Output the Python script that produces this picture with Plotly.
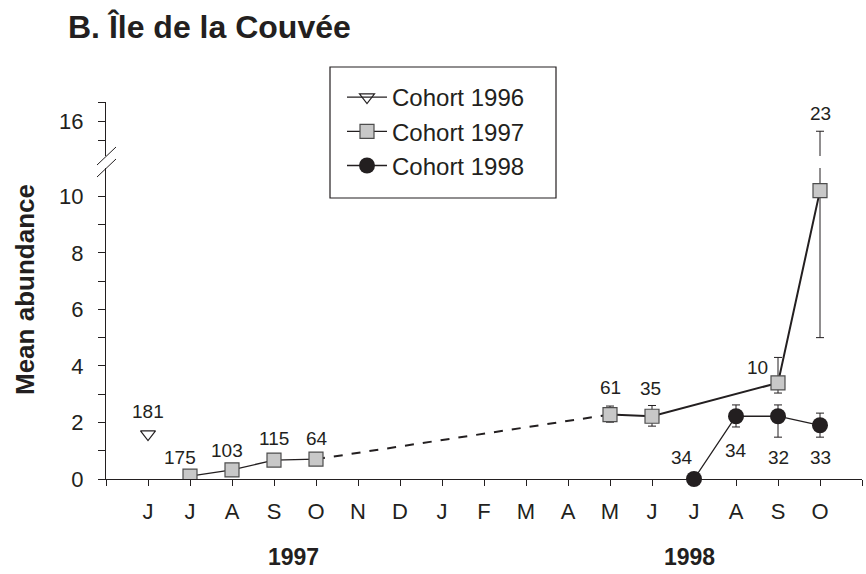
import plotly.graph_objects as go
from plotly.subplots import make_subplots

INK = "#231f20"
SQUARE_FILL = "#c8c8c8"
FONT = "Liberation Sans, Arial, sans-serif"
NARROW = "Liberation Sans Narrow, Arial Narrow, Liberation Sans, Arial, sans-serif"

# months from June 1997 to October 1998
MONTHS = ["J", "J", "A", "S", "O", "N", "D", "J", "F", "M", "A", "M", "J", "J", "A", "S", "O"]

C96_X = [0]
C96_Y = [1.59]
C96_N = [181]

C97_X = [1, 2, 3, 4, 11, 12, 15, 16]
C97_Y = [0.10, 0.32, 0.67, 0.70, 2.28, 2.22, 3.40, 10.20]
C97_UP = [0, 0, 0, 0, 0.30, 0.38, 0.90, 5.30]
C97_DN = [0, 0, 0, 0, 0.27, 0.35, 0.36, 5.20]
C97_N = [175, 103, 115, 64, 61, 35, 10, 23]

C98_X = [13, 14, 15, 16]
C98_Y = [0, 2.22, 2.22, 1.90]
C98_UP = [0, 0.40, 0.40, 0.43]
C98_DN = [0, 0.38, 0.74, 0.42]
C98_N = [34, 34, 32, 33]

# label offsets in pixels (xshift, yshift)
OFF96 = [(0, 23)]
OFF97 = [(-10, 19), (-5, 19), (0, 22), (1, 21), (0, 27), (-2, 28), (-21, 15)]
OFF98 = [(-12, 22), (0, -34), (0, -41), (0, -32)]

fig = make_subplots(rows=2, cols=1, shared_xaxes=True, vertical_spacing=0.03)

sq = dict(symbol="square", size=14, color=SQUARE_FILL, line=dict(color="#4d4d4d", width=1.2))
dot = dict(symbol="circle", size=16, color=INK)
err = dict(type="data", thickness=1, width=4, color=INK)

# --- lower panel (row 2) ---
fig.add_trace(go.Scatter(
    x=C96_X, y=C96_Y, mode="lines+markers", name="Cohort 1996",
    line=dict(color=INK, width=1.3),
    marker=dict(symbol="triangle-down-open", size=13, color=INK, line=dict(width=1.2)),
), row=2, col=1)

# dashed link across the winter gap
fig.add_trace(go.Scatter(
    x=C97_X[3:5], y=C97_Y[3:5], mode="lines", showlegend=False,
    line=dict(color=INK, width=2, dash="dash"),
), row=2, col=1)

fig.add_trace(go.Scatter(
    x=C97_X[:4], y=C97_Y[:4], mode="lines+markers", name="Cohort 1997",
    line=dict(color=INK, width=1.3), marker=sq,
), row=2, col=1)

fig.add_trace(go.Scatter(
    x=C97_X[4:], y=C97_Y[4:], mode="lines+markers", showlegend=False,
    line=dict(color=INK, width=2), marker=sq,
    error_y=dict(array=C97_UP[4:], arrayminus=C97_DN[4:], **err),
), row=2, col=1)

fig.add_trace(go.Scatter(
    x=C98_X, y=C98_Y, mode="lines+markers", name="Cohort 1998",
    line=dict(color=INK, width=1.3), marker=dot, cliponaxis=False,
    error_y=dict(array=C98_UP, arrayminus=C98_DN, **err),
), row=2, col=1)

# --- upper panel (row 1): only the tail of the October error bar ---
fig.add_trace(go.Scatter(
    x=C97_X[-1:], y=C97_Y[-1:], mode="markers", showlegend=False,
    marker=sq,
    error_y=dict(array=C97_UP[-1:], arrayminus=[0], **err),
), row=1, col=1)

# sample sizes
lab = dict(showarrow=False, font=dict(family=FONT, size=19, color=INK))
for x, y, n, (dx, dy) in zip(C96_X, C96_Y, C96_N, OFF96):
    fig.add_annotation(x=x, y=y, text=str(n), xref="x2", yref="y2", xshift=dx, yshift=dy, **lab)
for x, y, n, (dx, dy) in zip(C97_X[:-1], C97_Y[:-1], C97_N[:-1], OFF97):
    fig.add_annotation(x=x, y=y, text=str(n), xref="x2", yref="y2", xshift=dx, yshift=dy, **lab)
for x, y, n, (dx, dy) in zip(C98_X, C98_Y, C98_N, OFF98):
    fig.add_annotation(x=x, y=y, text=str(n), xref="x2", yref="y2", xshift=dx, yshift=dy, **lab)
fig.add_annotation(x=C97_X[-1], y=C97_Y[-1] + C97_UP[-1], text=str(C97_N[-1]),
                   xref="x", yref="y", yshift=18, **lab)

# axes
LOW_TOP = (479 - 168) / 377
UP_BOT = (479 - 156) / 377
axfont = dict(family=FONT, size=22, color=INK)

fig.update_xaxes(range=[-1, 17], showgrid=False, zeroline=False)
fig.update_xaxes(row=1, col=1, visible=False)
fig.update_xaxes(
    row=2, col=1,
    tickmode="array", tickvals=list(range(-1, 18)),
    ticktext=[""] + MONTHS + [""],
    ticks="outside", ticklen=6, tickcolor=INK, tickwidth=1,
    showline=True, linecolor=INK, linewidth=1.3,
    tickfont=dict(family=NARROW, size=22, color=INK),
    showticklabels=True, ticklabelstandoff=6,
)
fig.update_yaxes(
    row=2, col=1, domain=[0, LOW_TOP], range=[0, 11],
    tickmode="array", tickvals=list(range(0, 11)),
    ticktext=[str(v) if v % 2 == 0 else "" for v in range(0, 11)],
    ticks="outside", ticklen=7, tickcolor=INK,
    showline=True, linecolor=INK, linewidth=1.3,
    showgrid=False, zeroline=False, tickfont=axfont, ticklabelstandoff=10,
)
fig.update_yaxes(
    row=1, col=1, domain=[UP_BOT, 1], range=[14.23, 17],
    tickmode="array", tickvals=[15, 16, 17], ticktext=["", "16", ""],
    ticks="outside", ticklen=7, tickcolor=INK,
    showline=True, linecolor=INK, linewidth=1.3,
    showgrid=False, zeroline=False, tickfont=axfont, ticklabelstandoff=10,
)

# axis break marks
for yb in (156, 168):
    fig.add_shape(type="line", xref="paper", yref="paper",
                  x0=(97 - 106) / 756, x1=(116 - 106) / 756,
                  y0=(479 - yb - 9) / 377, y1=(479 - yb + 9) / 377,
                  line=dict(color=INK, width=1))

# legend box
fig.add_shape(type="rect", xref="paper", yref="paper",
              x0=(330 - 106) / 756, x1=(556 - 106) / 756,
              y0=(479 - 198) / 377, y1=(479 - 67) / 377,
              line=dict(color=INK, width=1.2), fillcolor="white", layer="below")

fig.add_annotation(text="<b>B. Île de la Couvée</b>", xref="paper", yref="paper",
                   x=(66 - 106) / 756, y=(479 - 27) / 377, xanchor="left", yanchor="middle",
                   showarrow=False, font=dict(family=FONT, size=32, color=INK))
fig.add_annotation(text="<b>Mean abundance</b>", xref="paper", yref="paper",
                   x=(25 - 106) / 756, y=(479 - 290) / 377, textangle=-90,
                   xanchor="center", yanchor="middle",
                   showarrow=False, font=dict(family=FONT, size=26, color=INK))
for yr, px in (("1997", 293), ("1998", 689)):
    fig.add_annotation(text=f"<b>{yr}</b>", xref="paper", yref="paper",
                       x=(px - 106) / 756, y=(479 - 557) / 377,
                       xanchor="center", yanchor="middle",
                       showarrow=False, font=dict(family=NARROW, size=23, color=INK))

fig.update_layout(
    width=866, height=574,
    margin=dict(l=106, r=4, t=102, b=95),
    paper_bgcolor="white", plot_bgcolor="white",
    font=dict(family=FONT, color=INK),
    legend=dict(
        x=(342 - 106) / 756, y=(479 - 75) / 377, xanchor="left", yanchor="top",
        bgcolor="rgba(0,0,0,0)", borderwidth=0,
        font=dict(family=FONT, size=24, color=INK),
        tracegroupgap=0, itemwidth=40,
    ),
    showlegend=True,
)

fig.write_html(
    "out.html",
    config={"displayModeBar": False},
    post_script="document.body.style.margin='0';document.body.style.overflow='hidden';",
)
